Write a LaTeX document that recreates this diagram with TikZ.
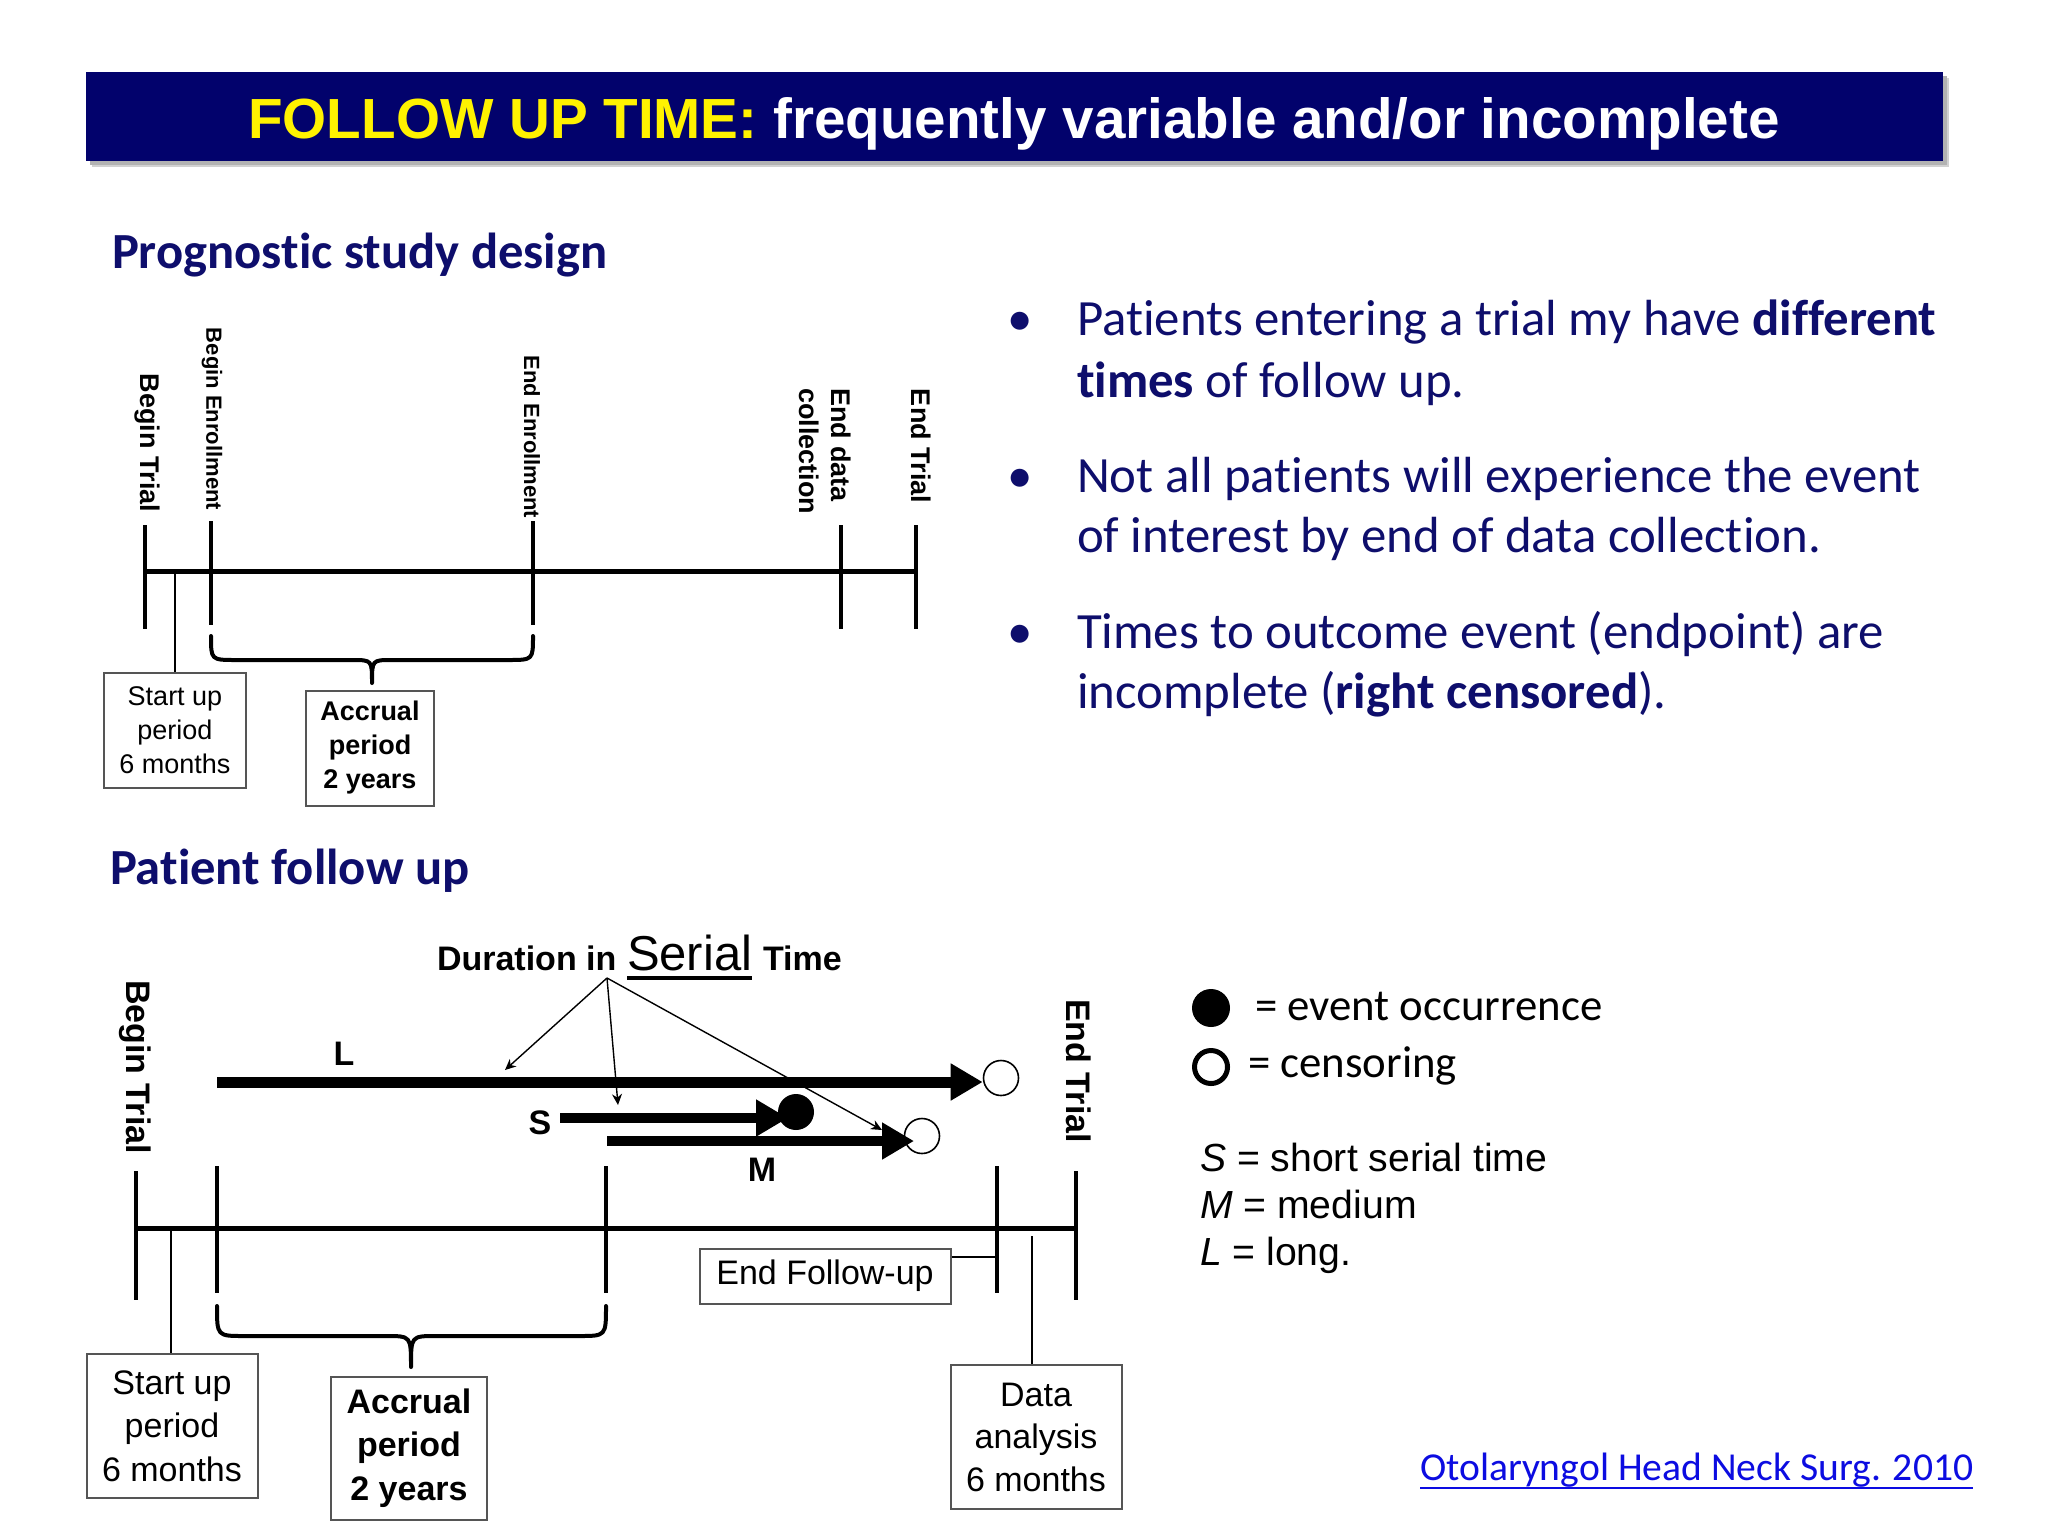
\documentclass[tikz,border=0pt]{standalone}
\usepackage{fontspec}
\setmainfont{Liberation Sans}
\newfontfamily\carl[Ligatures={NoCommon}]{Carlito}
\usetikzlibrary{arrows.meta,calc}
\definecolor{barblue}{RGB}{2,2,108}
\definecolor{headnavy}{RGB}{14,14,108}
\definecolor{linkblue}{RGB}{12,12,225}
\definecolor{boxgray}{RGB}{85,85,85}
\newcommand{\myfs}[2]{\fontsize{#1}{#2}\selectfont}
\begin{document}
\begin{tikzpicture}[x=0.5pt,y=-0.5pt,
  txt/.style={inner sep=0pt,outer sep=0pt},
  axisline/.style={line width=2.5pt},
  tickline/.style={line width=2.2pt},
  thinline/.style={line width=0.8pt},
  bracel/.style={line width=2pt,line join=round,line cap=round},
  boxnode/.style={draw=boxgray,line width=1pt,align=center,inner sep=0pt},
  lblA/.style={txt,font=\myfs{13.5}{16}\bfseries},
  lblB/.style={txt,font=\myfs{11}{13}\bfseries},
  lblC/.style={txt,font=\myfs{17}{20}\bfseries},
  fatarrow/.style={line width=5.5pt,-{Triangle[length=16pt,width=17.5pt]}},
  ptr/.style={line width=0.7pt,-{Stealth[length=5.5pt,width=5pt]}},
  opencirc/.style={circle,draw,line width=0.8pt,minimum size=17.5pt,inner sep=0pt},
  bullettxt/.style={txt,anchor=base west,text=headnavy,font=\carl\myfs{25.4}{30.5}},
  legtxt/.style={txt,anchor=base west,font=\carl\myfs{22.4}{27}},
  keytxt/.style={txt,anchor=base west,font=\myfs{19.6}{23.5}}
]
\useasboundingbox (0,0) rectangle (2048,1536);
\fill[white] (0,0) rectangle (2048,1536);

% ---------- title bar ----------
\fill[black!18] (92,78) rectangle (1949,167);
\fill[black!30] (90,76) rectangle (1947,165);
\fill[barblue] (86,72) rectangle (1943,161);
\node[txt,anchor=base] (title) at (1014,138)
  {\myfs{28.3}{34}\bfseries\textcolor{yellow}{FOLLOW UP TIME:} \textcolor{white}{frequently variable and/or incomplete}};

% ---------- headings ----------
\node[txt,anchor=base west,text=headnavy] (h1) at (112,268) {\carl\bfseries\myfs{25.3}{30}Prognostic study design};
\node[txt,anchor=base west,text=headnavy] (h2) at (110,884) {\carl\bfseries\myfs{25.3}{30}Patient follow up};

% ---------- bullets ----------
\node[txt,anchor=base,text=headnavy,font=\carl\myfs{25.4}{30.5}] (d1) at (1020,335) {•};
\node[txt,anchor=base,text=headnavy,font=\carl\myfs{25.4}{30.5}] (d2) at (1020,492) {•};
\node[txt,anchor=base,text=headnavy,font=\carl\myfs{25.4}{30.5}] (d3) at (1020,648) {•};
\node[bullettxt] (b1a) at (1077,335) {Patients entering a trial my have \textbf{different}};
\node[bullettxt] (b1b) at (1077,397) {\textbf{times} of follow up.};
\node[bullettxt] (b2a) at (1077,492) {Not all patients will experience the event};
\node[bullettxt] (b2b) at (1077,552) {of interest by end of data collection.};
\node[bullettxt] (b3a) at (1077,648) {Times to outcome event (endpoint) are};
\node[bullettxt] (b3b) at (1077,708) {incomplete (\textbf{right censored}).};

% ---------- top diagram ----------
\coordinate (tBT) at (145,571);
\coordinate (tET) at (916,571);
\draw[axisline] (tBT) -- (tET);
\draw[tickline] (145,525) -- (145,629);
\draw[tickline] (211,521) -- (211,625);
\draw[tickline] (533,521) -- (533,625);
\draw[tickline] (841,525) -- (841,629);
\draw[tickline] (916,525) -- (916,629);

\node[lblA,rotate=-90] (lBT) at (147,443) {Begin Trial};
\node[lblB,rotate=-90] (lBE) at (212,419) {Begin Enrollment};
\node[lblB,rotate=-90] (lEE) at (532,437) {End Enrollment};
\node[lblA,rotate=-90,anchor=north west,align=left] (lED) at (851,388) {End data\\collection};
\node[lblA,rotate=-90] (lET) at (921,446) {End Trial};

\draw[bracel] (211,636) .. controls (211,660) .. (236,660) -- (352,660)
  .. controls (372,660) .. (372,683) .. controls (372,660) .. (392,660)
  -- (508,660) .. controls (533,660) .. (533,636);

\node[boxnode,minimum width=71pt,minimum height=57.5pt,font=\myfs{13.5}{17}] (sb1) at (175,730) {Start up\\period\\6 months};
\node[boxnode,minimum width=64pt,minimum height=57.5pt,font=\myfs{13.5}{17}\bfseries] (ab1) at (370,748) {Accrual\\period\\2 years};
\coordinate (su1) at (175,571);
\draw[thinline] (su1) -- (sb1.north);

% ---------- bottom diagram ----------
\draw[axisline] (136,1228) -- (1076,1228);
\draw[tickline] (136,1171) -- (136,1300);
\draw[tickline] (217,1166) -- (217,1293);
\draw[tickline] (606,1166) -- (606,1293);
\draw[tickline] (997,1166) -- (997,1293);
\draw[tickline] (1076,1171) -- (1076,1300);

\node[lblC,rotate=-90] (bBT) at (135,1067) {Begin Trial};
\node[lblC,rotate=-90] (bET) at (1079,1071) {End Trial};

% duration label
\node[txt,anchor=base west,font=\myfs{17}{20}\bfseries] (dur) at (437,970) {Duration in};
\node[txt,anchor=base west,font=\myfs{24.5}{28}] (ser) at (627,970) {Serial};
\node[txt,anchor=base west,font=\myfs{17}{20}\bfseries] (tim) at (763,970) {Time};
\draw[line width=1.6pt] ($(ser.base west)+(0,8)$) -- ($(ser.base east)+(0,8)$);

% patient lines
\node[opencirc] (Lc) at (1001,1078) {};
\node[opencirc] (Mc) at (922,1136) {};
\coordinate (Ls) at (217,1082);
\coordinate (Ss) at (560,1118);
\coordinate (Ms) at (607,1141);
\draw[fatarrow] (Ls) -- (Ls -| Lc.west);
\draw[fatarrow,line width=5pt] (Ss) -- (788,1118);
\draw[fatarrow,line width=5pt] (Ms) -- (914,1141);
\node[circle,fill=black,minimum size=18pt,inner sep=0pt] (Sc) at (796,1112) {};

\node[lblC] (lL) at (344,1054) {L};
\node[lblC] (lS) at (540,1123) {S};
\node[lblC] (lM) at (762,1170) {M};

\coordinate (src) at (607,978);
\coordinate (p1) at (505,1070);
\coordinate (p2) at (618,1105);
\coordinate (p3) at (882,1130);
\draw[ptr] (src) -- (p1);
\draw[ptr] (src) -- (p2);
\draw[ptr] (src) -- (p3);

\draw[bracel] (217,1306) .. controls (217,1336) .. (244,1336) -- (386,1336)
  .. controls (411,1336) .. (411,1367) .. controls (411,1336) .. (436,1336)
  -- (579,1336) .. controls (606,1336) .. (606,1306);

\node[boxnode,minimum width=85.5pt,minimum height=72pt,font=\myfs{17}{21.75}] (sb2) at (172,1426) {Start up\\period\\6 months};
\node[boxnode,minimum width=78pt,minimum height=71.5pt,font=\myfs{17}{21.75}\bfseries] (ab2) at (409,1448) {Accrual\\period\\2 years};
\node[boxnode,minimum width=125.5pt,minimum height=27.5pt,font=\myfs{17}{21}] (efu) at (825,1276) {End Follow-up};
\node[boxnode,minimum width=85.5pt,minimum height=72pt,font=\myfs{17}{21.25}] (dab) at (1036,1437) {Data\\analysis\\6 months};

\coordinate (su2) at (171,1228);
\draw[thinline] (su2) -- (su2 |- sb2.north);
\coordinate (efuT) at (997,1257);
\draw[thinline] (efu.east |- efuT) -- (efuT);
\coordinate (daT) at (1032,1236);
\draw[thinline] (daT) -- (daT |- dab.north);

% ---------- legend ----------
\node[circle,fill=black,minimum size=19pt,inner sep=0pt] (lgE) at (1211,1008) {};
\node[legtxt] (lgEt) at (1255,1020) {= event occurrence};
\node[circle,draw,line width=2.5pt,minimum size=16.5pt,inner sep=0pt] (lgC) at (1211,1067) {};
\node[legtxt] (lgCt) at (1248,1077) {= censoring};
\node[keytxt] (kS) at (1200,1171) {\textit{S} = short serial time};
\node[keytxt] (kM) at (1200,1218) {\textit{M} = medium};
\node[keytxt] (kL) at (1200,1265) {\textit{L} = long.};

% ---------- citation ----------
\node[txt,anchor=base west,text=linkblue,font=\carl\myfs{19.8}{24}] (cite) at (1420,1480) {Otolaryngol Head Neck Surg. 2010};
\draw[linkblue,line width=1.1pt] ($(cite.base west)+(0,8)$) -- ($(cite.base east)+(0,8)$);
\end{tikzpicture}
\end{document}
